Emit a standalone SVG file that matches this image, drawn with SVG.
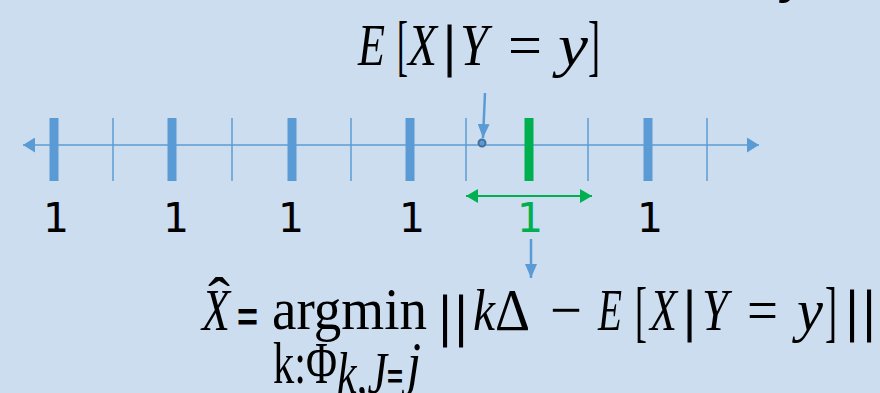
<svg xmlns="http://www.w3.org/2000/svg" width="880" height="393" viewBox="0 0 880 393">
<defs>
<style>
.mi{font-family:"Liberation Serif",serif;font-style:italic;font-size:60px;fill:#000}
.mu{font-family:"Liberation Serif",serif;font-size:60px;fill:#000}
.br{font-family:"Liberation Serif",serif;font-size:68px;fill:#000}
.bar{font-family:"Liberation Serif",serif;font-size:58px;fill:#000;stroke:#000;stroke-width:1.2;text-anchor:middle}
.eqs{font-family:"Liberation Sans",sans-serif;font-weight:bold;fill:#000}
.num{font-family:"DejaVu Sans",sans-serif;font-size:41px;text-anchor:middle}
.thick{fill:#5B9BD5}
.thin{stroke:#5B9BD5;stroke-width:1.5}
.blue{stroke:#5B9BD5;fill:none}
.green{stroke:#00B050;fill:none}
</style>
<marker id="axHead" markerUnits="userSpaceOnUse" markerWidth="12" markerHeight="15" refX="12" refY="7.5" orient="auto-start-reverse"><path d="M0,0 L12,7.5 L0,15 z" fill="#5B9BD5"/></marker>
<marker id="blueHead" markerUnits="userSpaceOnUse" markerWidth="14" markerHeight="12" refX="14" refY="6" orient="auto"><path d="M0,0 L14,6 L0,12 z" fill="#5B9BD5"/></marker>
<marker id="greenHead" markerUnits="userSpaceOnUse" markerWidth="12" markerHeight="14" refX="12" refY="7" orient="auto-start-reverse"><path d="M0,0 L12,7 L0,14 z" fill="#00B050"/></marker>
</defs>
<rect width="880" height="393" fill="#CCDDEF"/>

<g id="fragment">
<text class="mi" x="784" y="-10">y</text>
</g>

<g id="formula-top">
<text class="mi" x="358" y="65" textLength="27" lengthAdjust="spacingAndGlyphs">E</text>
<text class="br" x="397" y="68" textLength="11" lengthAdjust="spacingAndGlyphs">[</text>
<text class="mi" x="408" y="65" textLength="29" lengthAdjust="spacingAndGlyphs">X</text>
<text class="bar" x="449.5" y="65">|</text>
<text class="mi" x="460" y="65" textLength="28" lengthAdjust="spacingAndGlyphs">Y</text>
<text class="mu" x="508" y="65" textLength="34" lengthAdjust="spacingAndGlyphs">=</text>
<text class="mi" x="558" y="65" textLength="30" lengthAdjust="spacingAndGlyphs">y</text>
<text class="br" x="588" y="68" textLength="12" lengthAdjust="spacingAndGlyphs">]</text>
</g>

<g id="axis">
<line x1="23" y1="145" x2="759" y2="145" class="blue" stroke-width="1.5" marker-start="url(#axHead)" marker-end="url(#axHead)"/>
<line class="thin" x1="113" y1="118" x2="113" y2="181"/>
<line class="thin" x1="232" y1="118" x2="232" y2="181"/>
<line class="thin" x1="351" y1="118" x2="351" y2="181"/>
<line class="thin" x1="466" y1="118" x2="466" y2="181"/>
<line class="thin" x1="588" y1="118" x2="588" y2="181"/>
<line class="thin" x1="707" y1="118" x2="707" y2="181"/>
<rect class="thick" x="49.5" y="118" width="9" height="63"/>
<rect class="thick" x="167.5" y="118" width="9" height="63"/>
<rect class="thick" x="287.5" y="118" width="9" height="63"/>
<rect class="thick" x="405.5" y="118" width="9" height="63"/>
<rect class="thick" x="643.5" y="118" width="9" height="63"/>
<rect x="524.5" y="118" width="9" height="63" fill="#00B050"/>
</g>

<g id="labels">
<text class="num" x="56" y="232" fill="#000">1</text>
<text class="num" x="176" y="232" fill="#000">1</text>
<text class="num" x="291" y="232" fill="#000">1</text>
<text class="num" x="412" y="232" fill="#000">1</text>
<text class="num" x="650" y="232" fill="#000">1</text>
<text class="num" x="530" y="232" fill="#00B050">1</text>
</g>

<g id="connectors">
<line x1="485" y1="93" x2="483" y2="138" class="blue" stroke-width="2.5" marker-end="url(#blueHead)"/>
<circle cx="482" cy="143" r="3.5" fill="#5B9BD5" stroke="#41719C" stroke-width="2"/>
<line x1="466" y1="196" x2="592" y2="196" class="green" stroke-width="2" marker-start="url(#greenHead)" marker-end="url(#greenHead)"/>
<line x1="531" y1="239" x2="531" y2="278" class="blue" stroke-width="2.5" marker-end="url(#blueHead)"/>
</g>

<g id="formula-bottom">
<text class="mi" x="202" y="330" textLength="28" lengthAdjust="spacingAndGlyphs">X</text>
<text class="mu" x="208" y="318" font-size="50" textLength="22" lengthAdjust="spacingAndGlyphs">ˆ</text>
<text class="eqs" x="237" y="331" font-size="40" textLength="21" lengthAdjust="spacingAndGlyphs">=</text>
<text class="mu" x="272" y="329" font-size="52" textLength="155" lengthAdjust="spacingAndGlyphs">argmin</text>
<text class="bar" x="445" y="335" font-size="40">|</text>
<text class="bar" x="461" y="335" font-size="40">|</text>
<text class="mi" x="473" y="330" textLength="22" lengthAdjust="spacingAndGlyphs">k</text>
<text class="mu" x="495" y="330" font-size="56" textLength="35" lengthAdjust="spacingAndGlyphs">Δ</text>
<text class="mu" x="550" y="330" textLength="32" lengthAdjust="spacingAndGlyphs">−</text>
<text class="mi" x="598" y="330" textLength="24" lengthAdjust="spacingAndGlyphs">E</text>
<text class="br" x="635" y="334" textLength="12" lengthAdjust="spacingAndGlyphs">[</text>
<text class="mi" x="650" y="330" textLength="27" lengthAdjust="spacingAndGlyphs">X</text>
<text class="bar" x="689.5" y="330">|</text>
<text class="mi" x="702" y="330" textLength="26" lengthAdjust="spacingAndGlyphs">Y</text>
<text class="mu" x="747" y="330" textLength="31" lengthAdjust="spacingAndGlyphs">=</text>
<text class="mi" x="797" y="330" textLength="26" lengthAdjust="spacingAndGlyphs">y</text>
<text class="br" x="825" y="334" textLength="12" lengthAdjust="spacingAndGlyphs">]</text>
<text class="bar" x="852" y="330">|</text>
<text class="bar" x="869" y="330">|</text>
<text class="mu" x="273" y="383" font-size="44" textLength="64" lengthAdjust="spacingAndGlyphs">k:Φ</text>
<text class="mi" x="337" y="393" font-size="44" textLength="50" lengthAdjust="spacingAndGlyphs">k,J</text>
<text class="eqs" x="387" y="388" font-size="34" textLength="16" lengthAdjust="spacingAndGlyphs">=</text>
<text class="mi" x="407" y="383" font-size="44" textLength="14" lengthAdjust="spacingAndGlyphs">j</text>
</g>
</svg>
